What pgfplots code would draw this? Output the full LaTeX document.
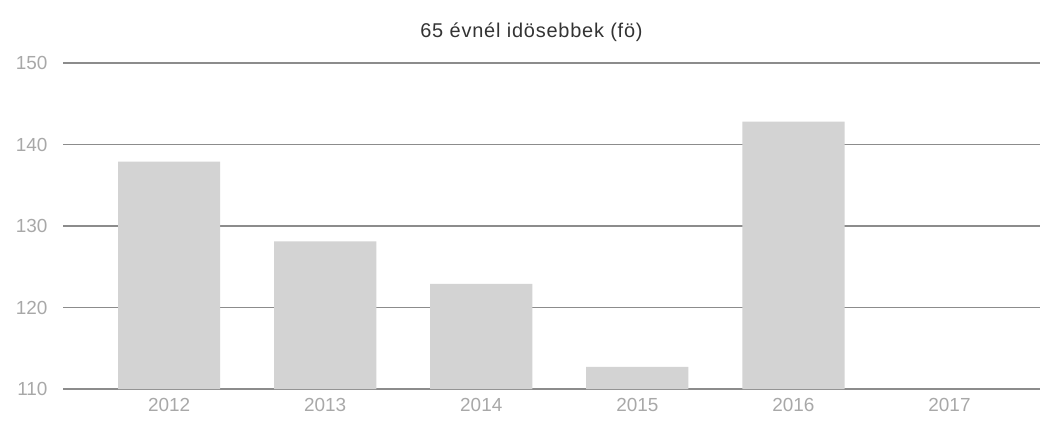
\documentclass[border=0pt]{standalone}
\usepackage{pgfplots}
\pgfplotsset{compat=1.18}
\usepackage{fontspec}
\setmainfont{Liberation Sans}
\usetikzlibrary{calc}
\definecolor{barc}{HTML}{D3D3D3}
\definecolor{gridc}{HTML}{8C8C8C}
\definecolor{tickc}{HTML}{A8A8A8}
\definecolor{titlec}{HTML}{333333}
\begin{document}
\begin{tikzpicture}
\begin{axis}[
  name=ax,
  scale only axis,
  width=977bp, height=326bp,
  xmin=-0.68, xmax=5.58,
  ymin=110, ymax=150,
  ytick={110,120,130,140,150},
  xtick={0,1,2,3,4,5},
  xticklabels={2012,2013,2014,2015,2016,2017},
  ymajorgrids,
  major grid style={gridc, line width=1.1bp},
  axis line style={draw=none},
  major tick length=0pt,
  /pgf/number format/assume math mode=true,
  ticklabel style={font=\fontsize{19}{21}\selectfont, text=tickc},
  yticklabel style={xshift=-12bp},
  xticklabel style={yshift=-6bp},
  clip=false,
]
\addplot[ybar, bar width=0.655, fill=barc, draw=none, bar shift=0pt] coordinates {
  (0,137.9) (1,128.1) (2,122.9) (3,112.7) (4,142.8)
};
\end{axis}
\node[font=\fontsize{20}{22}\selectfont\addfontfeatures{LetterSpace=4}, text=titlec, anchor=base] at ($(ax.north)+(-20bp,25bp)$) {65 évnél idösebbek (fö)};
\pgfresetboundingbox
\path ($(ax.south west)+(-63bp,-32bp)$) rectangle ($(ax.north east)+(9bp,63bp)$);
\end{tikzpicture}
\end{document}
